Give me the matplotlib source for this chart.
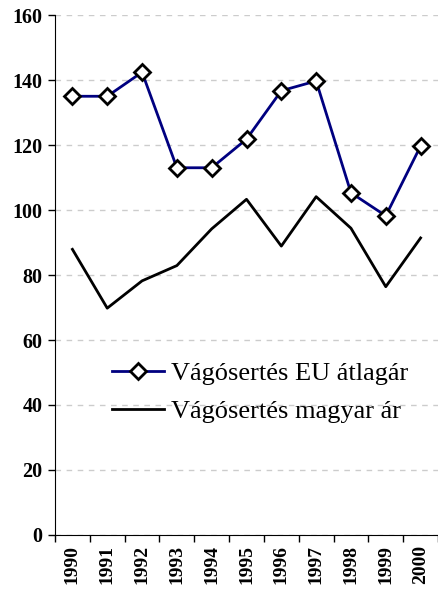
import matplotlib.pyplot as plt
import numpy as np

# data
years = ["1990", "1991", "1992", "1993", "1994", "1995",
         "1996", "1997", "1998", "1999", "2000"]
eu_price = [135, 135, 142.4, 113, 113, 121.8, 136.7, 139.7, 105.3, 98.2, 119.7]
hu_price = [87.9, 69.8, 78.2, 82.9, 94.2, 103.3, 88.9, 104.1, 94.4, 76.4, 91.4]

plt.rcParams['font.family'] = ['Liberation Serif', 'DejaVu Serif']

fig = plt.figure(figsize=(4.38, 5.89), dpi=100)
ax = fig.add_axes([0.1256, 0.0917, 0.8744, 0.8828])

x = np.arange(len(years))
ax.plot(x, eu_price, color="#000080", lw=2, marker="D", markersize=8.5,
        markerfacecolor="white", markeredgecolor="black", markeredgewidth=2,
        label="Vágósertés EU átlagár", zorder=3)
ax.plot(x, hu_price, color="black", lw=2, label="Vágósertés magyar ár", zorder=3)

ax.set_xlim(-0.5, len(years) - 0.5)
ax.set_ylim(0, 160)
ax.set_yticks(np.arange(0, 161, 20))
ax.set_xticks(x)
ax.set_xticklabels(years, rotation=90, fontweight="bold", fontsize=14)
ax.set_xticks(np.arange(-0.5, len(years)), minor=True)
ax.tick_params(axis="x", which="major", length=0, pad=7)
ax.tick_params(axis="x", which="minor", length=5, width=1, direction="out")
ax.tick_params(axis="y", length=5, width=1, direction="out", pad=4)
for lab in ax.get_yticklabels():
    lab.set_fontweight("bold")
    lab.set_fontsize(14.5)

ax.yaxis.grid(True, color="#cccccc", linestyle=(0, (4, 4)), lw=1)
ax.set_axisbelow(True)
for s in ["top", "right"]:
    ax.spines[s].set_visible(False)

ax.legend(loc="upper left", bbox_to_anchor=(0.149, 0.333), frameon=False,
          fontsize=19, handlelength=1.95, handletextpad=0.27, labelspacing=0.55,
          borderaxespad=0, borderpad=0)

fig.savefig("out.png", dpi=100)
